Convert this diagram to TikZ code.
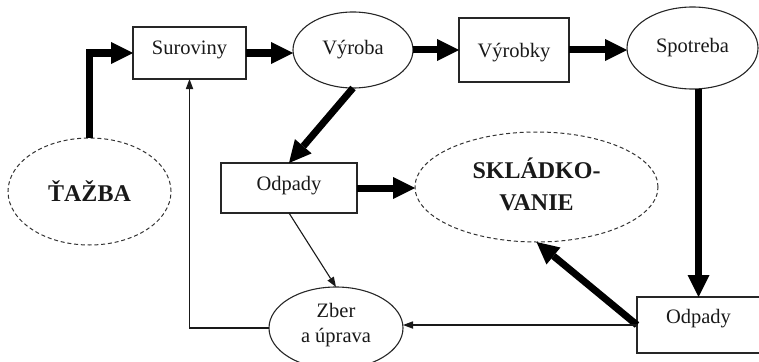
\documentclass[tikz,border=0pt]{standalone}
\usepackage{fontspec}
\setmainfont{Liberation Serif}
\usetikzlibrary{arrows.meta,shapes.geometric}
\begin{document}
\begin{tikzpicture}[x=1pt,y=-1pt,
  every node/.style={inner sep=0pt, outer sep=0pt, text=black!90,
    font=\fontsize{20.5}{25}\selectfont},
  box/.style={draw=black!85, line width=1.1pt, rectangle},
  oval/.style={draw=black!85, line width=1.1pt, ellipse, align=center},
  dashoval/.style={draw=black!80, line width=1pt, ellipse, align=center,
    dash pattern=on 4pt off 2.8pt,
    font=\fontsize{24}{32}\selectfont\bfseries},
  flow/.style={line width=7pt, line join=miter,
    -{Triangle[length=22pt,width=22pt,line width=0pt]}},
  link/.style={line width=1.1pt, draw=black!90,
    -{Triangle[length=10pt,width=7.5pt,line width=0pt]}},
]
\useasboundingbox (0,0) rectangle (759,361);

% boxes (text sits near the top edge)
\node[box, minimum width=113pt, text height=28pt, text depth=24pt] (surov) at (189.5,53) {Suroviny};
\node[box, minimum width=110pt, text height=39pt, text depth=25pt] (vyrobky) at (514,50) {Výrobky};
\node[box, minimum width=136pt, text height=27pt, text depth=23pt] (odpA) at (289,188) {Odpady};
\node[box, minimum width=123pt, text height=26pt, text depth=30pt] (odpB) at (698.5,325) {Odpady};

% ellipses
\node[oval, minimum width=120pt, minimum height=76pt] (vyroba) at (353,50) {Výroba};
\node[oval, minimum width=131pt, minimum height=82pt] (spotreba) at (692.5,48) {Spotreba};
\node[oval, minimum width=134pt, minimum height=82pt] (zber) at (336,328) {};
\node[dashoval, minimum width=163pt, minimum height=107pt] (tazba) at (89.5,191.5) {ŤAŽBA};
\node[dashoval, minimum width=243pt, minimum height=110pt] (sklad) at (536.5,187) {};
\node[align=center] at ([yshift=2.5pt]zber.center) {Zber\\a úprava};
\node[align=center, font=\fontsize{24}{32}\selectfont\bfseries] at ([yshift=3pt]sklad.center) {SKLÁDKO-\\VANIE};

% main material flow
\draw[flow] (tazba.north) |- (surov.west);
\draw[flow] (surov.east) -- (surov.east -| vyroba.west);
\draw[flow] (vyroba.east) -- (vyrobky.west);
\draw[flow] (vyrobky.east) -- (vyrobky.east -| spotreba.west);
\draw[flow] (odpB.north |- spotreba.south) -- (odpB.north);
\draw[flow] (vyroba.south) -- (odpA.north);
\draw[flow] (odpA.east) -- (odpA.east -| sklad.west);
\draw[flow] (odpB.west) -- (sklad.south);

% recycling loop
\draw[link] (odpA.south) -- (zber.north);
\draw[link] (odpB.west) -- (odpB.west -| zber.east);
\draw[link] (zber.west) -| (surov.south);
\end{tikzpicture}
\end{document}
